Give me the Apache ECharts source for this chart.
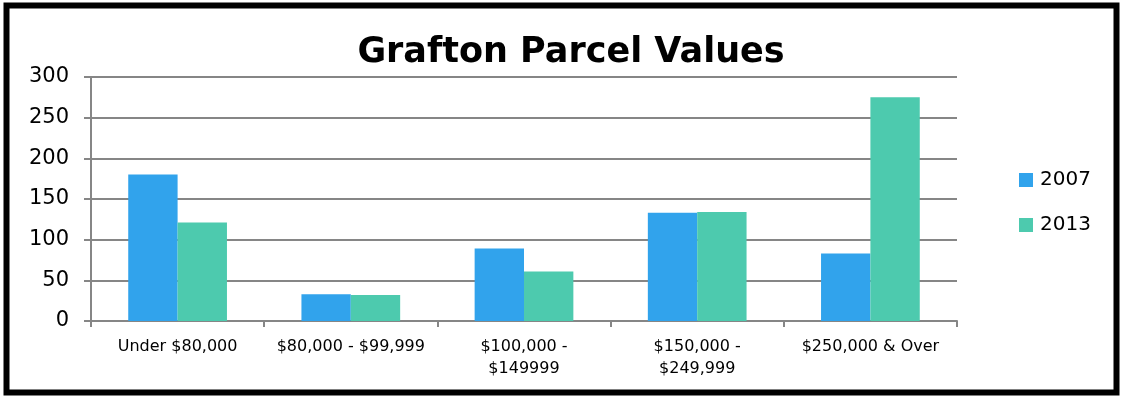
<!DOCTYPE html>
<html>
<head>
<meta charset="utf-8">
<script src="https://cdn.jsdelivr.net/npm/echarts@6/dist/echarts.min.js"></script>
<style>
  html, body { margin: 0; padding: 0; background: #fff; }
  #chart { width: 1122px; height: 398px; }
</style>
</head>
<body>
<div id="chart"></div>
<script>
// Parcel counts by assessed value range
const categories = ['Under $80,000', '$80,000 - $99,999', '$100,000 -\n$149999', '$150,000 -\n$249,999', '$250,000 & Over'];
const seriesNames = ['2007', '2013'];
const values2007 = [180, 33, 89, 133, 83];
const values2013 = [121, 32, 61, 134, 275];
const yTicks = { min: 0, max: 300, interval: 50 };

const font = '"DejaVu Sans", "Noto Sans", sans-serif';
const chart = echarts.init(document.getElementById('chart'));

chart.setOption({
  backgroundColor: '#fff',
  animation: false,
  title: {
    text: 'Grafton Parcel Values',
    left: 566,
    textAlign: 'center',
    top: 30,
    textStyle: { fontFamily: font, fontWeight: 'bold', fontSize: 35, color: '#000' }
  },
  legend: {
    orient: 'vertical',
    left: 1014,
    top: 165,
    itemWidth: 14,
    itemHeight: 14,
    itemGap: 25,
    icon: 'rect',
    textStyle: { fontFamily: font, fontSize: 20, color: '#000', padding: [0, 0, 0, 2] },
    data: seriesNames
  },
  grid: { left: 91, right: 165, top: 77, bottom: 77, containLabel: false },
  xAxis: {
    type: 'category',
    data: categories,
    axisLine: { lineStyle: { color: '#868686', width: 2 } },
    axisTick: { show: true, length: 6, alignWithLabel: false, lineStyle: { color: '#868686', width: 2 } },
    axisLabel: { fontFamily: font, fontSize: 16, color: '#000', margin: 15, lineHeight: 22, interval: 0 }
  },
  yAxis: {
    type: 'value',
    min: yTicks.min,
    max: yTicks.max,
    interval: yTicks.interval,
    axisLine: { show: true, lineStyle: { color: '#868686', width: 2 } },
    axisTick: { show: true, length: 7, lineStyle: { color: '#868686', width: 2 } },
    axisLabel: { fontFamily: font, fontSize: 21, color: '#000', margin: 22 },
    splitLine: { lineStyle: { color: '#868686', width: 2 } }
  },
  series: [
    {
      name: seriesNames[0], type: 'bar', data: values2007,
      barGap: '0%', barCategoryGap: '43%',
      itemStyle: { color: '#31A3EC' }
    },
    {
      name: seriesNames[1], type: 'bar', data: values2013,
      barGap: '0%', barCategoryGap: '43%',
      itemStyle: { color: '#4DCAAE' }
    }
  ],
  graphic: [{
    type: 'rect',
    silent: true,
    shape: { x: 6.5, y: 5.5, width: 1110, height: 387 },
    style: { fill: 'none', stroke: '#000', lineWidth: 6 },
    z: 100
  }]
});
</script>
</body>
</html>
